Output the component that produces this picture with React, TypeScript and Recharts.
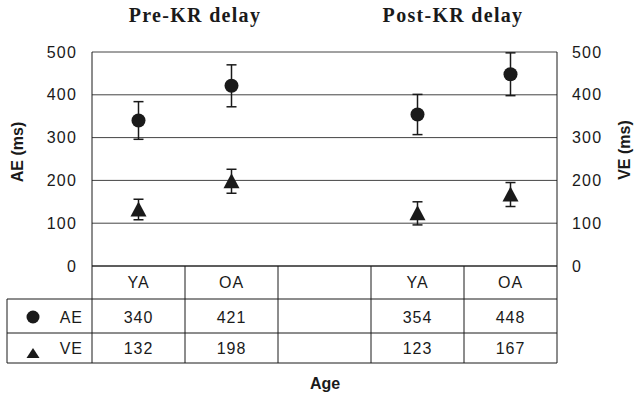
import { ComposedChart, Scatter, ErrorBar, XAxis, YAxis, CartesianGrid } from "recharts"

const columns = ["YA", "OA", "", "YA", "OA"]
const aeMeans = [340, 421, null, 354, 448]
const aeErrors = [44, 49, null, 47, 50]
const veMeans = [132, 198, null, 123, 167]
const veErrors = [24, 28, null, 27, 28]
const yTicks = [0, 100, 200, 300, 400, 500]
const xTicks = columns.map((_, i) => i)

const W = 634
const H = 396
const PLOT_L = 92
const PLOT_R = 557
const CELL = (PLOT_R - PLOT_L) / columns.length
// row bottoms of the table, measured down from the x axis line
const ROW1 = 33
const ROW2 = 67
const ROW3 = 97
const LEGEND_W = 85

const sans = "'Liberation Sans', Arial, Helvetica, sans-serif"
const serif = "'Liberation Serif', 'Times New Roman', Times, serif"
const ink = "#1a1a1a"

const toPoints = (means: (number | null)[], errors: (number | null)[]) =>
  columns
    .map((_, i) => ({ x: i, y: means[i], err: errors[i] }))
    .filter((d) => d.y != null)

const aePoints = toPoints(aeMeans, aeErrors)
const vePoints = toPoints(veMeans, veErrors)

function Dot(props: any) {
  const { cx, cy } = props
  return <circle cx={cx} cy={cy} r={7} fill={ink} />
}

function Tri(props: any) {
  const { cx, cy } = props
  return <polygon points={`${cx},${cy - 8} ${cx + 8},${cy + 7} ${cx - 8},${cy + 7}`} fill={ink} />
}

function TableTick(props: any) {
  const { x, y, payload } = props
  const i = payload.value as number
  const l = x - CELL / 2
  const r = x + CELL / 2
  const ae = aeMeans[i]
  const ve = veMeans[i]
  const txt = { fontFamily: sans, fontSize: 16, fill: ink, letterSpacing: 1, textAnchor: "middle" as const }
  const lx = l - LEGEND_W
  return (
    <g>
      <line x1={r} y1={y} x2={r} y2={y + ROW3} stroke={ink} />
      {i === 0 && <line x1={l} y1={y} x2={l} y2={y + ROW3} stroke={ink} />}
      <line x1={l} y1={y + ROW1} x2={r} y2={y + ROW1} stroke={ink} />
      <line x1={l} y1={y + ROW2} x2={r} y2={y + ROW2} stroke={ink} />
      <line x1={l} y1={y + ROW3} x2={r} y2={y + ROW3} stroke={ink} />
      <text x={x} y={y + 22} {...txt}>{columns[i]}</text>
      <text x={x} y={y + 57} {...txt}>{ae ?? ""}</text>
      <text x={x} y={y + 88} {...txt}>{ve ?? ""}</text>
      {i === 0 && (
        <g>
          <line x1={lx} y1={y + ROW1} x2={l} y2={y + ROW1} stroke={ink} />
          <line x1={lx} y1={y + ROW2} x2={l} y2={y + ROW2} stroke={ink} />
          <line x1={lx} y1={y + ROW3} x2={l} y2={y + ROW3} stroke={ink} />
          <line x1={lx} y1={y + ROW1} x2={lx} y2={y + ROW3} stroke={ink} />
          <circle cx={l - 59} cy={y + 51} r={6.5} fill={ink} />
          <text x={l - 9} y={y + 57} {...txt} textAnchor="end">AE</text>
          <polygon
            points={`${l - 59},${y + 82} ${l - 52.5},${y + 92} ${l - 65.5},${y + 92}`}
            fill={ink}
          />
          <text x={l - 9} y={y + 88} {...txt} textAnchor="end">VE</text>
        </g>
      )}
    </g>
  )
}

const tickStyle = { fontFamily: sans, fontSize: 16, fill: ink, letterSpacing: 1.2 }

export default function App() {
  return (
    <div style={{ position: "absolute", left: 0, top: 0, width: W, height: H, background: "#fff" }}>
      <ComposedChart width={W} height={H} margin={{ top: 52, right: 0, bottom: 0, left: 0 }}>
        <CartesianGrid vertical={false} stroke="#444" />
        <XAxis
          type="number"
          dataKey="x"
          domain={[-0.5, columns.length - 0.5]}
          ticks={xTicks}
          interval={0}
          height={130}
          tickSize={0}
          tickMargin={0}
          tickLine={false}
          axisLine={{ stroke: ink }}
          tick={<TableTick />}
          allowDataOverflow
        />
        <YAxis
          type="number"
          domain={[0, 500]}
          ticks={yTicks}
          width={92}
          tickSize={0}
          tickMargin={15}
          tickLine={false}
          axisLine={{ stroke: ink }}
          tick={tickStyle}
        />
        <YAxis
          yAxisId="ve"
          orientation="right"
          type="number"
          domain={[0, 500]}
          ticks={yTicks}
          width={77}
          tickSize={0}
          tickMargin={15}
          tickLine={false}
          axisLine={{ stroke: ink }}
          tick={tickStyle}
        />
        <Scatter name="AE" data={aePoints} dataKey="y" shape={<Dot />} isAnimationActive={false}>
          <ErrorBar dataKey="err" direction="y" width={5} stroke={ink} strokeWidth={1.5} />
        </Scatter>
        <Scatter name="VE" yAxisId="ve" data={vePoints} dataKey="y" shape={<Tri />} isAnimationActive={false}>
          <ErrorBar dataKey="err" direction="y" width={5} stroke={ink} strokeWidth={1.5} />
        </Scatter>
      </ComposedChart>
      <svg
        width={W}
        height={H}
        style={{ position: "absolute", left: 0, top: 0, pointerEvents: "none" }}
      >
        <text x={195} y={22} textAnchor="middle" fontFamily={serif} fontWeight="bold" fontSize={20} letterSpacing={1.3} fill={ink}>
          Pre-KR delay
        </text>
        <text x={453} y={22} textAnchor="middle" fontFamily={serif} fontWeight="bold" fontSize={20} letterSpacing={1.3} fill={ink}>
          Post-KR delay
        </text>
        <text x={23} y={152} transform="rotate(-90 23 152)" textAnchor="middle" fontFamily={sans} fontWeight="bold" fontSize={16} fill={ink}>
          AE (ms)
        </text>
        <text x={630} y={150} transform="rotate(-90 630 150)" textAnchor="middle" fontFamily={sans} fontWeight="bold" fontSize={16} fill={ink}>
          VE (ms)
        </text>
        <text x={325} y={389} textAnchor="middle" fontFamily={sans} fontWeight="bold" fontSize={16} fill={ink}>
          Age
        </text>
      </svg>
    </div>
  )
}
